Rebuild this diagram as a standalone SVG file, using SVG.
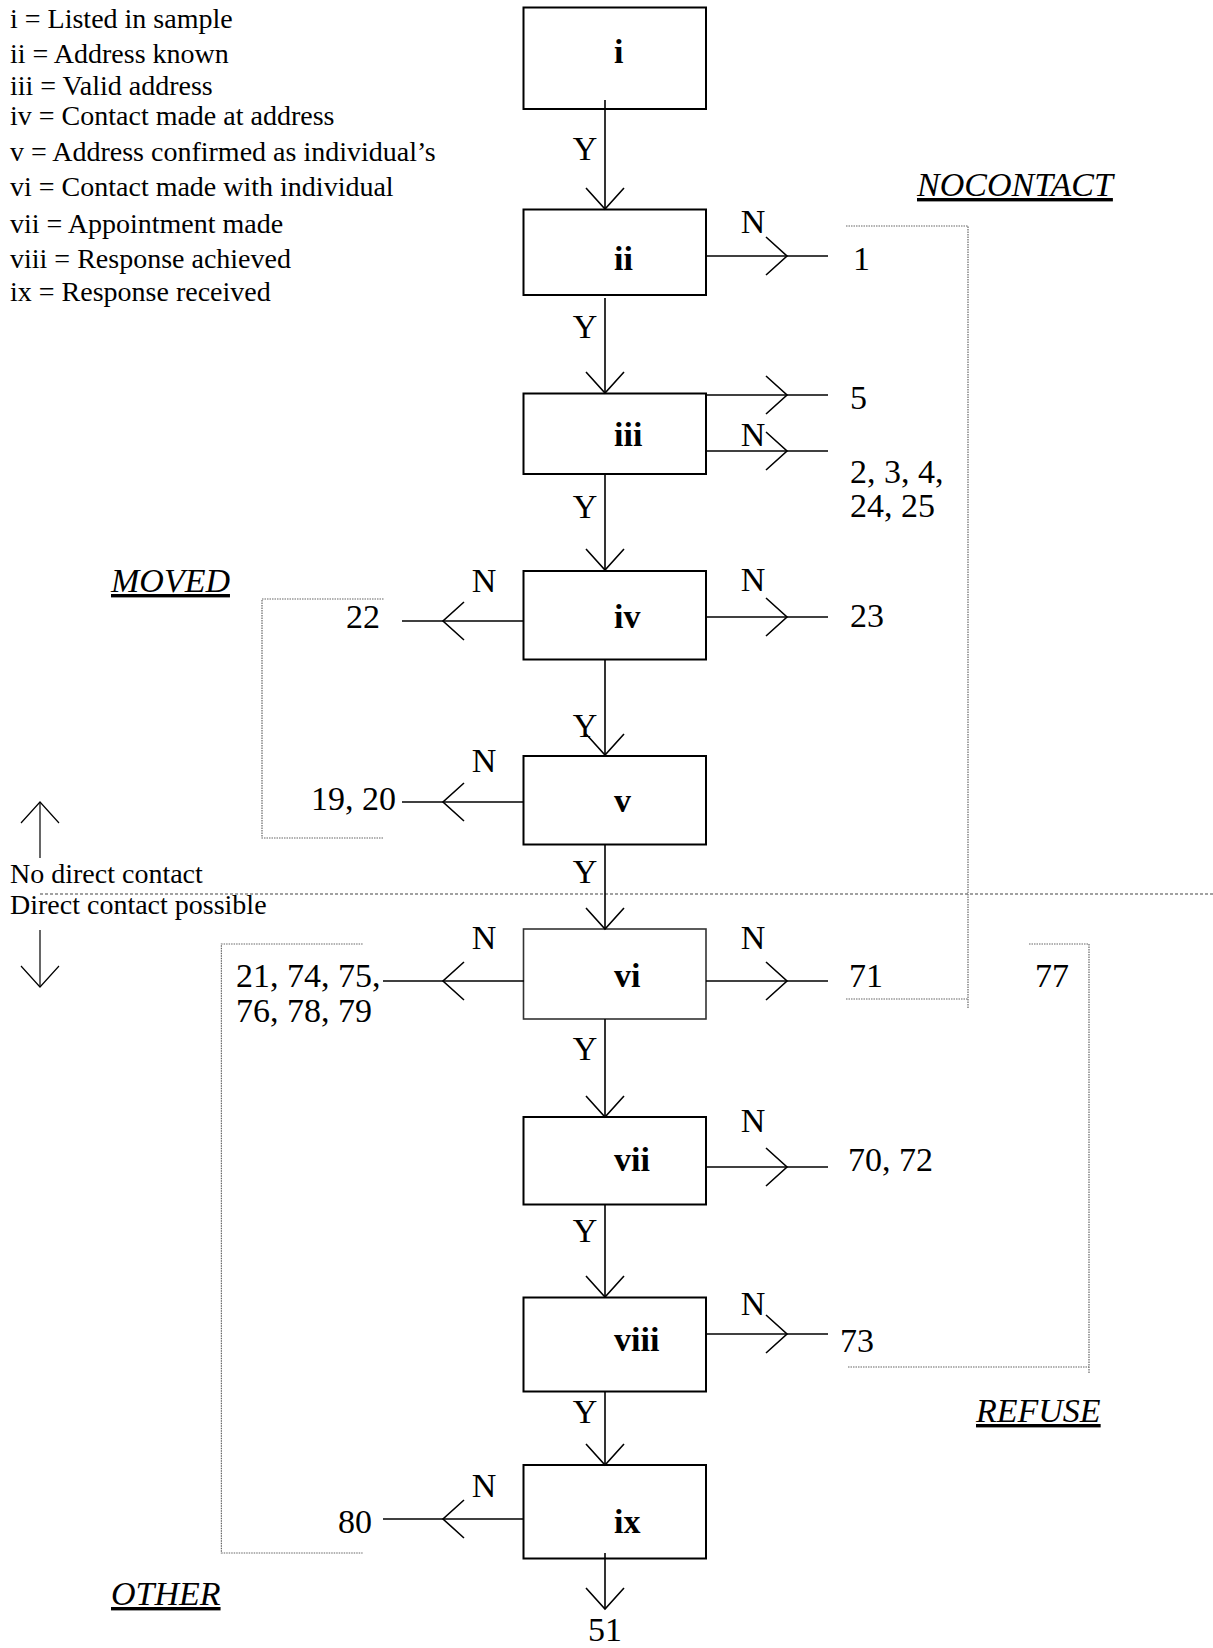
<svg xmlns="http://www.w3.org/2000/svg" width="1213" height="1648" viewBox="0 0 1213 1648">
<style>
text{font-family:"Liberation Serif","Times New Roman",serif;fill:#000}
.lg{font-size:28px}
.n{font-size:34px}
.b{font-size:34px;font-weight:bold}
.it{font-size:34px;font-style:italic;text-decoration:underline}
.box{fill:#fff;stroke:#000;stroke-width:2}
.arE{fill:none;stroke:#000;stroke-width:1.6;marker-end:url(#v)}
.arM{fill:none;stroke:#000;stroke-width:1.6;marker-mid:url(#v)}
.thin{fill:none;stroke:#000;stroke-width:1.2;marker-end:url(#vt)}
.dot{fill:none;stroke:#666;stroke-width:1.2;stroke-dasharray:1.5 1}
.dash{fill:none;stroke:#444;stroke-width:1.2;stroke-dasharray:3 2}
</style>
<defs>
<marker id="v" markerUnits="userSpaceOnUse" viewBox="-24 -22 30 44" markerWidth="30" markerHeight="44" refX="0" refY="0" orient="auto" overflow="visible">
<path d="M-21,-19 L0,0 L-21,19" fill="none" stroke="#000" stroke-width="1.6"/>
</marker>
<marker id="vt" markerUnits="userSpaceOnUse" viewBox="-24 -22 30 44" markerWidth="30" markerHeight="44" refX="0" refY="0" orient="auto" overflow="visible">
<path d="M-21,-19 L0,0 L-21,19" fill="none" stroke="#000" stroke-width="1.2"/>
</marker>
</defs>
<rect width="1213" height="1648" fill="#fff"/>

<g id="legend">
<text class="lg" x="10" y="28">i = Listed in sample</text>
<text class="lg" x="10" y="63">ii = Address known</text>
<text class="lg" x="10" y="95">iii = Valid address</text>
<text class="lg" x="10" y="125">iv = Contact made at address</text>
<text class="lg" x="10" y="161">v = Address confirmed as individual’s</text>
<text class="lg" x="10" y="196">vi = Contact made with individual</text>
<text class="lg" x="10" y="233">vii = Appointment made</text>
<text class="lg" x="10" y="268">viii = Response achieved</text>
<text class="lg" x="10" y="301">ix = Response received</text>
</g>

<g id="contact-divider">
<path class="dash" d="M40 894 H1213"/>
<path class="thin" d="M40 858 V802"/>
<path class="thin" d="M40 930 V987"/>
<text class="lg" x="10" y="883">No direct contact</text>
<text class="lg" x="10" y="914">Direct contact possible</text>
</g>

<g id="groups">
<path class="dot" d="M846 226 H968 V1008"/>
<path class="dot" d="M846 999 H968"/>
<path class="dot" d="M383.5 599 H262 V838 H383.5"/>
<path class="dot" d="M362.6 944 H221.4 V1553 H362.6"/>
<path class="dot" d="M1029 944 H1089 V1373"/>
<path class="dot" d="M848 1367 H1089"/>
<text class="it" x="917" y="196">NOCONTACT</text>
<text class="it" x="111" y="592">MOVED</text>
<text class="it" x="976" y="1422">REFUSE</text>
<text class="it" x="111" y="1605">OTHER</text>
</g>

<g id="node-i"><rect class="box" x="523.5" y="7.5" width="182.5" height="101.5"/><text class="b" x="614" y="63">i</text></g>
<g id="node-ii"><rect class="box" x="523.5" y="209.5" width="182.5" height="85.5"/><text class="b" x="614" y="270">ii</text></g>
<g id="node-iii"><rect class="box" x="523.5" y="393.5" width="182.5" height="80.5"/><text class="b" x="614" y="446">iii</text></g>
<g id="node-iv"><rect class="box" x="523.5" y="571" width="182.5" height="88.5"/><text class="b" x="614" y="628">iv</text></g>
<g id="node-v"><rect class="box" x="523.5" y="756" width="182.5" height="88.5"/><text class="b" x="614" y="812">v</text></g>
<g id="node-vi"><rect class="box" x="523.5" y="929" width="182.5" height="90" style="stroke:#333;stroke-width:1.6"/><text class="b" x="614" y="987">vi</text></g>
<g id="node-vii"><rect class="box" x="523.5" y="1117" width="182.5" height="87.5"/><text class="b" x="614" y="1171">vii</text></g>
<g id="node-viii"><rect class="box" x="523.5" y="1297.5" width="182.5" height="94"/><text class="b" x="614" y="1351">viii</text></g>
<g id="node-ix"><rect class="box" x="523.5" y="1465" width="182.5" height="93.5"/><text class="b" x="614" y="1533">ix</text></g>

<g id="connectors">
<path class="arE" d="M605 100 V209"/>
<path class="arE" d="M605 298 V393"/>
<path class="arE" d="M605 474 V570"/>
<path class="arE" d="M605 659 V755"/>
<path class="arE" d="M605 844 V929"/>
<path class="arE" d="M605 1019 V1117"/>
<path class="arE" d="M605 1204 V1297"/>
<path class="arE" d="M605 1391 V1465"/>
<path class="arE" d="M605 1553 V1609"/>

<path class="arM" d="M706 256 H787 H828"/>
<path class="arM" d="M706 395 H787 H828"/>
<path class="arM" d="M706 451 H787 H828"/>
<path class="arM" d="M706 617 H787 H828"/>
<path class="arM" d="M706 981 H787 H828"/>
<path class="arM" d="M706 1167 H787 H828"/>
<path class="arM" d="M706 1334 H787 H828"/>

<path class="arM" d="M524 621 H443 H402"/>
<path class="arM" d="M524 802 H443 H402"/>
<path class="arM" d="M524 981 H443 H383"/>
<path class="arM" d="M524 1519 H443 H383"/>

<g text-anchor="middle">
<text class="n" x="585" y="160">Y</text>
<text class="n" x="585" y="338">Y</text>
<text class="n" x="585" y="518">Y</text>
<text class="n" x="585" y="737">Y</text>
<text class="n" x="585" y="883">Y</text>
<text class="n" x="585" y="1060">Y</text>
<text class="n" x="585" y="1242">Y</text>
<text class="n" x="585" y="1423">Y</text>
<text class="n" x="753" y="233">N</text>
<text class="n" x="753" y="446">N</text>
<text class="n" x="753" y="591">N</text>
<text class="n" x="753" y="949">N</text>
<text class="n" x="753" y="1132">N</text>
<text class="n" x="753" y="1315">N</text>
<text class="n" x="484" y="592">N</text>
<text class="n" x="484" y="772">N</text>
<text class="n" x="484" y="949">N</text>
<text class="n" x="484" y="1497">N</text>
<text class="n" x="605" y="1641">51</text>
</g>
</g>

<g id="outcomes">
<text class="n" x="853" y="270">1</text>
<text class="n" x="850" y="409">5</text>
<text class="n" x="850" y="483">2, 3, 4,</text>
<text class="n" x="850" y="517">24, 25</text>
<text class="n" x="850" y="627">23</text>
<text class="n" x="849" y="987">71</text>
<text class="n" x="1035" y="987">77</text>
<text class="n" x="848" y="1171">70, 72</text>
<text class="n" x="840" y="1352">73</text>
<text class="n" x="236" y="987">21, 74, 75,</text>
<text class="n" x="236" y="1022">76, 78, 79</text>
<g text-anchor="end">
<text class="n" x="380" y="628">22</text>
<text class="n" x="396" y="810">19, 20</text>
<text class="n" x="372" y="1533">80</text>
</g>
</g>
</svg>
